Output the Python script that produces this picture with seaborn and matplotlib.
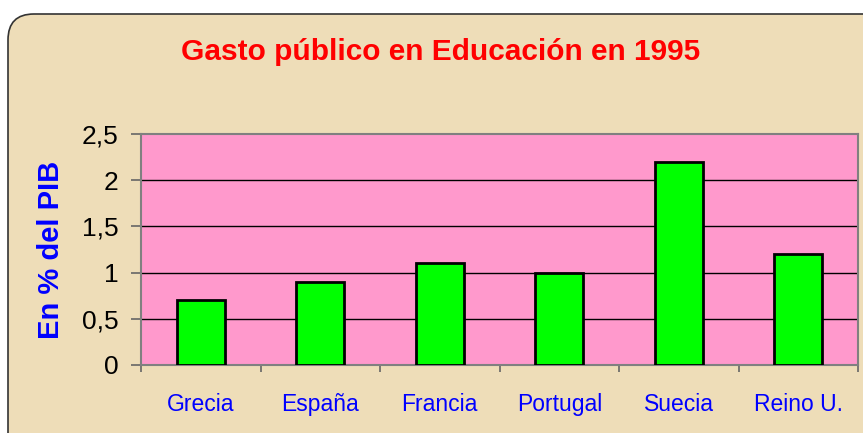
import numpy as np
import pandas as pd
import matplotlib.pyplot as plt
import seaborn as sns
from matplotlib.patches import FancyBboxPatch
from matplotlib.ticker import FuncFormatter

# Data
paises = ['Grecia', 'España', 'Francia', 'Portugal', 'Suecia', 'Reino U.']
gasto = [0.7, 0.9, 1.1, 1.0, 2.2, 1.2]
y_ticks = [0, 0.5, 1, 1.5, 2, 2.5]

df = pd.DataFrame({'Pais': paises, 'Gasto': gasto})

sns.set_theme(style='white')
plt.rcParams['font.family'] = ['Liberation Sans', 'DejaVu Sans']

fig = plt.figure(figsize=(8.63, 4.33), dpi=100)
fig.patch.set_facecolor('white')

# beige rounded panel behind the chart
panel = FancyBboxPatch((8 / 863, -0.2), 1.2, (433 - 14) / 433 + 0.2,
                       boxstyle='round,pad=0,rounding_size=0.03',
                       transform=fig.transFigure, facecolor='#EEDDB8',
                       edgecolor='#333333', linewidth=1.2, zorder=-1,
                       mutation_aspect=2.0)
fig.patches.append(panel)

ax = fig.add_axes([141 / 863, 68 / 433, 717 / 863, 231 / 433])
ax.set_facecolor('#FF99CC')

sns.barplot(data=df, x='Pais', y='Gasto', color='#00FF00', width=0.4,
            edgecolor='black', linewidth=2, saturation=1, ax=ax, zorder=3)

ax.set_xlim(-0.5, len(paises) - 0.5)
ax.set_ylim(0, 2.5)
ax.set_yticks(y_ticks)
ax.yaxis.set_major_formatter(FuncFormatter(lambda v, p: f'{v:g}'.replace('.', ',')))
for y in y_ticks[1:-1]:
    ax.axhline(y, color='black', linewidth=1, zorder=1)

ax.set_xticks(np.arange(-0.5, len(paises), 1), minor=True)
ax.tick_params(axis='x', which='major', length=0, pad=20, labelsize=16.5, labelcolor='#0000FF')
ax.tick_params(axis='x', which='minor', length=5, color='#666666', width=1.2, direction='out', bottom=True)
ax.tick_params(axis='y', length=7, color='#666666', width=1.2, direction='out', left=True,
               labelsize=19, labelcolor='black', pad=9)

for s in ax.spines.values():
    s.set_color('#808080')
    s.set_linewidth(1.5)

ax.set_xlabel('')
ax.set_ylabel('En % del PIB', color='#0000FF', fontsize=21, fontweight='bold', labelpad=12)

fig.text(0.51, 0.88, 'Gasto público en Educación en 1995', color='#FF0000',
         fontsize=21.5, fontweight='bold', ha='center', va='center')

fig.savefig('out.png', dpi=100)
